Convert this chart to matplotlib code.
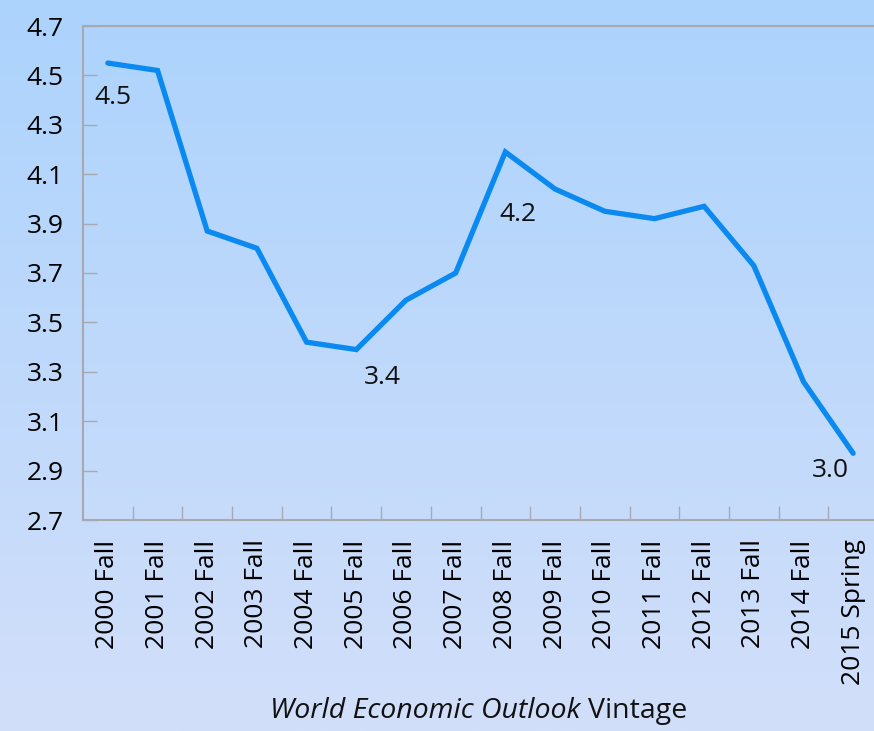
import numpy as np
import matplotlib
matplotlib.use("Agg")
import matplotlib.pyplot as plt
from matplotlib.colors import LinearSegmentedColormap

plt.rcParams['font.family'] = ['Open Sans', 'DejaVu Sans']

# data
vintages = ["2000 Fall", "2001 Fall", "2002 Fall", "2003 Fall", "2004 Fall",
            "2005 Fall", "2006 Fall", "2007 Fall", "2008 Fall", "2009 Fall",
            "2010 Fall", "2011 Fall", "2012 Fall", "2013 Fall", "2014 Fall",
            "2015 Spring"]
growth = [4.55, 4.52, 3.87, 3.80, 3.42, 3.39, 3.59, 3.70, 4.19, 4.04,
          3.95, 3.92, 3.97, 3.73, 3.26, 2.97]
yticks = [2.7, 2.9, 3.1, 3.3, 3.5, 3.7, 3.9, 4.1, 4.3, 4.5, 4.7]
# annotated points: index, text
notes = [(0, "4.5"), (5, "3.4"), (8, "4.2"), (15, "3.0")]

fs = 19
fig = plt.figure(figsize=(8.74, 7.31), dpi=100)

# background gradient over whole figure
bg = fig.add_axes([0, 0, 1, 1], zorder=-10)
cmap = LinearSegmentedColormap.from_list("bg", ["#acd3fd", "#d2dffa"])
bg.imshow(np.linspace(0, 1, 256).reshape(-1, 1), aspect="auto", cmap=cmap,
          extent=[0, 1, 0, 1])
bg.axis("off")

ax = fig.add_axes([83 / 874, 1 - 520 / 731, 795 / 874, 494 / 731])
ax.patch.set_alpha(0)

x = np.arange(len(vintages))
ax.plot(x, growth, color="#0a8af0", lw=3.8, solid_capstyle="round",
        solid_joinstyle="miter")

ax.set_xlim(-0.5, len(vintages) - 0.5)
ax.set_ylim(2.7, 4.7)
ax.set_yticks(yticks)
ax.set_yticklabels([f"{v:.1f}" for v in yticks])
ax.set_xticks(x)
ax.set_xticklabels(vintages, rotation=90)
ax.set_xticks(np.arange(0.5, len(vintages) - 0.5), minor=True)

ax.tick_params(axis="x", which="major", length=0, pad=14, labelsize=fs)
ax.tick_params(axis="x", which="minor", length=10, width=1, direction="in",
               color="#a8a8b0")
ax.tick_params(axis="y", length=10, width=1, direction="in", color="#a8a8b0",
               pad=14, labelsize=fs)

ax.spines["right"].set_visible(False)
for s in ["left", "bottom", "top"]:
    ax.spines[s].set_color("#a8a8b0")
    ax.spines[s].set_linewidth(1.5)

offsets = {0: (0.1, -0.14), 5: (0.53, -0.115), 8: (0.25, -0.255),
           15: (-0.45, -0.07)}
for i, txt in notes:
    dx, dy = offsets[i]
    ax.text(i + dx, growth[i] + dy, txt, fontsize=fs, ha="center",
            va="center", color="#111111")

# x label: italic title part followed by regular "Vintage"
t1 = fig.text(0, 0.018, "World Economic Outlook ", fontsize=20.5,
              style="italic", color="#111111")
t2 = fig.text(0, 0.018, "Vintage", fontsize=20.5, color="#111111")
r = fig.canvas.get_renderer()
w1 = t1.get_window_extent(r).width / fig.bbox.width
w2 = t2.get_window_extent(r).width / fig.bbox.width
x0 = 0.548 - (w1 + w2) / 2
t1.set_x(x0)
t2.set_x(x0 + w1)

fig.savefig("out.png", dpi=100)
